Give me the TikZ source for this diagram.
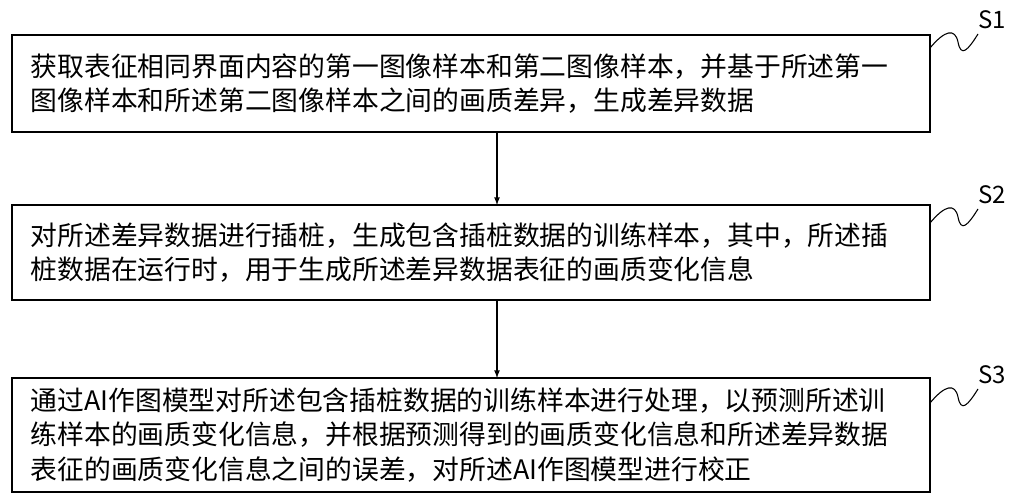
\documentclass[tikz,border=0pt]{standalone}
\usepackage{fontspec}
\setmainfont{Noto Sans CJK SC}
\begin{document}
\begin{tikzpicture}[x=0.75pt,y=-0.75pt,
  box/.style={draw,line width=1pt,anchor=north west,inner sep=0pt},
  txt/.style={anchor=west,font=\fontsize{20.1pt}{26pt}\selectfont,align=left},
  lab/.style={font=\fontsize{18pt}{20pt}\selectfont},
  arr/.style={-latex,line width=1pt}]
\useasboundingbox (0,0) rectangle (1026,500);
\draw[box] (12,35) rectangle (930,132);
\draw[box] (12,205) rectangle (930,300);
\draw[box] (12,378) rectangle (930,492);
\coordinate (b1) at (497,132); \coordinate (t2) at (497,205);
\coordinate (b2) at (497,300); \coordinate (t3) at (497,378);
\draw[arr] (b1) -- (t2);
\draw[arr] (b2) -- (t3);
\node[txt] (n1) at (26,83.5) {获取表征相同界面内容的第一图像样本和第二图像样本，并基于所述第一\\图像样本和所述第二图像样本之间的画质差异，生成差异数据};
\node[txt] (n2) at (26,252.5) {对所述差异数据进行插桩，生成包含插桩数据的训练样本，其中，所述插\\桩数据在运行时，用于生成所述差异数据表征的画质变化信息};
\node[txt] (n3) at (26,435) {通过AI作图模型对所述包含插桩数据的训练样本进行处理，以预测所述训\\练样本的画质变化信息，并根据预测得到的画质变化信息和所述差异数据\\表征的画质变化信息之间的误差，对所述AI作图模型进行校正};
\foreach \y/\s in {20/S1,195/S2,375/S3}{
  \node[lab] at (992,\y) {\s};
  \draw[line width=0.8pt] (930,\y+28) .. controls (945,\y+10) and (955,\y+8) .. (958,\y+22)
     .. controls (961,\y+38) and (968,\y+30) .. (978,\y+14);
}
\end{tikzpicture}
\end{document}
